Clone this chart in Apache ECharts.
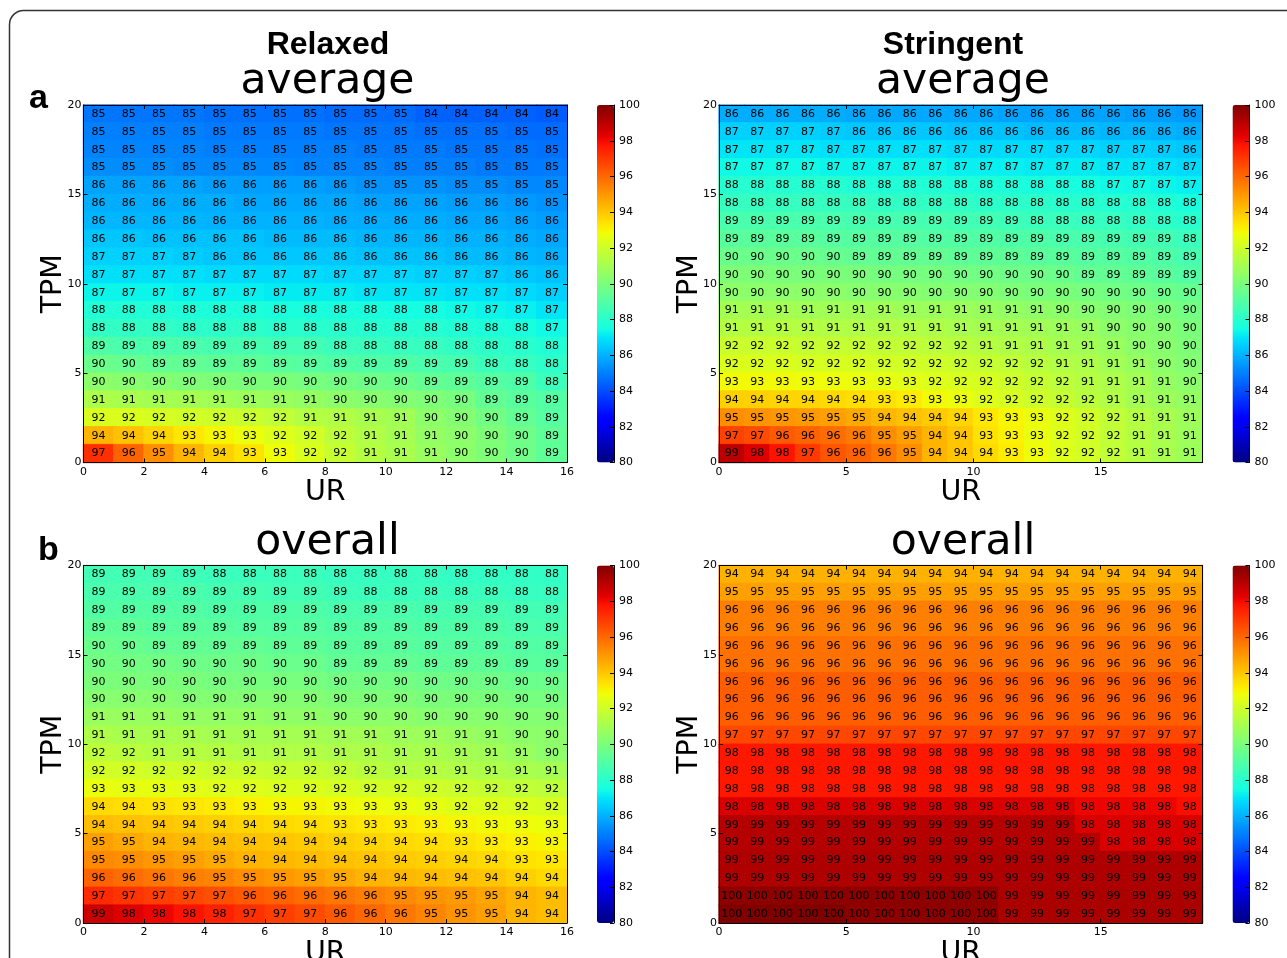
<!DOCTYPE html>
<html><head><meta charset="utf-8">
<style>html,body{margin:0;padding:0;background:#fff;overflow:hidden}#c{width:1287px;height:958px}</style>
<script src="https://cdn.jsdelivr.net/npm/echarts@6/dist/echarts.min.js"></script>
</head><body><div id="c"></div>
<script>
// rows listed from TPM 19 (top) to TPM 0 (bottom); printed numbers read from the cells, tenths
const relaxedAverage = [
[84.8,84.8,84.8,84.8,84.7,84.7,84.7,84.7,84.6,84.6,84.6,84.4,84.4,84.4,84.4,84.3],
[85.0,85.0,85.0,85.0,84.9,84.9,84.9,84.9,84.8,84.8,84.8,84.7,84.7,84.7,84.6,84.6],
[85.1,85.1,85.1,85.1,85.0,85.0,85.0,85.0,85.0,84.9,84.9,84.9,84.8,84.8,84.8,84.7],
[85.3,85.3,85.3,85.2,85.2,85.2,85.2,85.1,85.1,85.1,85.0,85.0,85.0,84.9,84.9,84.9],
[85.7,85.7,85.7,85.7,85.6,85.6,85.6,85.6,85.5,85.4,85.4,85.4,85.3,85.3,85.2,85.2],
[85.9,85.9,85.9,85.9,85.9,85.8,85.8,85.8,85.8,85.7,85.7,85.7,85.6,85.6,85.5,85.4],
[86.1,86.1,86.1,86.1,86.0,86.0,86.0,86.0,85.9,85.9,85.9,85.9,85.8,85.8,85.7,85.6],
[86.4,86.4,86.3,86.3,86.3,86.3,86.2,86.2,86.2,86.1,86.1,86.1,86.0,86.0,85.9,85.8],
[86.6,86.6,86.6,86.5,86.4,86.4,86.4,86.4,86.4,86.3,86.3,86.3,86.2,86.2,86.1,86.0],
[86.9,86.9,86.9,86.9,86.8,86.8,86.8,86.8,86.7,86.7,86.7,86.6,86.6,86.5,86.4,86.3],
[87.3,87.3,87.3,87.2,87.2,87.2,87.1,87.1,87.1,87.0,87.0,87.0,86.9,86.9,86.8,86.6],
[87.8,87.8,87.8,87.7,87.7,87.7,87.6,87.6,87.6,87.6,87.5,87.5,87.4,87.3,87.2,87.0],
[88.2,88.2,88.2,88.1,88.1,88.1,88.0,88.0,88.0,87.9,87.9,87.9,87.8,87.7,87.6,87.4],
[88.9,88.8,88.8,88.8,88.7,88.7,88.6,88.6,88.4,88.4,88.3,88.3,88.2,88.1,88.0,87.8],
[89.6,89.5,89.4,89.4,89.3,89.3,89.2,89.1,89.0,88.9,88.9,88.8,88.7,88.4,88.3,88.1],
[90.4,90.3,90.2,90.1,90.1,90.0,90.0,89.9,89.8,89.7,89.6,89.4,89.3,89.1,88.9,88.4],
[91.2,91.1,91.0,91.0,90.9,90.8,90.7,90.6,90.4,90.3,90.2,90.1,89.9,89.4,89.2,89.0],
[92.3,92.3,92.2,92.1,92.0,91.9,91.7,91.4,91.3,91.1,90.9,90.4,90.2,89.8,89.4,89.1],
[94.4,94.1,93.7,93.3,93.0,92.7,92.4,92.1,91.6,91.3,91.0,90.6,90.4,90.1,89.7,89.3],
[97.2,96.1,95.2,94.4,93.8,93.4,92.8,92.3,91.8,91.4,91.1,90.7,90.4,90.1,89.7,89.3]];
const stringentAverage = [
[85.9,85.9,85.9,85.9,85.9,85.8,85.8,85.8,85.8,85.8,85.8,85.7,85.7,85.7,85.7,85.7,85.6,85.6,85.5],
[86.6,86.6,86.6,86.6,86.5,86.4,86.4,86.4,86.4,86.3,86.3,86.3,86.2,86.2,86.2,86.1,86.1,86.0,85.9],
[87.0,87.0,87.0,87.0,86.9,86.9,86.9,86.9,86.9,86.8,86.8,86.8,86.8,86.7,86.7,86.6,86.6,86.5,86.4],
[87.4,87.4,87.4,87.4,87.3,87.3,87.3,87.3,87.3,87.2,87.2,87.2,87.1,87.1,87.1,87.0,87.0,86.9,86.8],
[87.9,87.9,87.9,87.9,87.9,87.8,87.8,87.8,87.8,87.7,87.7,87.7,87.6,87.6,87.5,87.4,87.4,87.3,87.2],
[88.3,88.3,88.3,88.3,88.3,88.3,88.2,88.2,88.2,88.2,88.1,88.1,88.1,88.0,88.0,87.9,87.9,87.8,87.6],
[88.8,88.8,88.8,88.8,88.8,88.7,88.7,88.7,88.7,88.6,88.6,88.5,88.4,88.4,88.3,88.3,88.2,88.1,88.0],
[89.2,89.2,89.2,89.2,89.1,89.1,89.1,89.1,89.0,89.0,89.0,88.9,88.9,88.8,88.8,88.7,88.6,88.6,88.4],
[89.6,89.6,89.6,89.6,89.5,89.4,89.4,89.4,89.4,89.3,89.3,89.3,89.2,89.2,89.1,89.1,89.0,88.9,88.7],
[90.1,90.1,90.0,90.0,90.0,90.0,89.9,89.9,89.9,89.8,89.8,89.7,89.7,89.6,89.4,89.4,89.3,89.2,89.0],
[90.4,90.4,90.4,90.4,90.4,90.3,90.3,90.3,90.2,90.2,90.2,90.1,90.0,90.0,89.9,89.8,89.7,89.6,89.5],
[91.0,91.0,91.0,90.9,90.9,90.9,90.9,90.8,90.8,90.8,90.7,90.6,90.5,90.4,90.3,90.2,90.1,90.0,89.8],
[91.4,91.4,91.4,91.4,91.3,91.3,91.3,91.3,91.2,91.1,91.0,91.0,90.9,90.8,90.7,90.4,90.3,90.2,90.0],
[91.9,91.9,91.9,91.8,91.8,91.8,91.7,91.7,91.6,91.5,91.4,91.3,91.2,91.0,90.9,90.7,90.4,90.3,90.1],
[92.3,92.3,92.3,92.2,92.2,92.2,92.1,92.1,92.0,91.9,91.8,91.7,91.5,91.3,91.2,90.9,90.7,90.4,90.2],
[92.9,92.9,92.9,92.8,92.8,92.7,92.6,92.5,92.4,92.3,92.2,92.0,91.8,91.6,91.4,91.2,91.0,90.6,90.4],
[93.8,93.8,93.7,93.7,93.6,93.5,93.4,93.2,92.9,92.7,92.4,92.2,92.0,91.8,91.5,91.3,91.0,90.8,90.6],
[95.2,95.1,95.0,94.9,94.8,94.6,94.3,94.1,93.9,93.7,93.3,93.0,92.7,92.4,92.1,91.7,91.4,91.1,90.8],
[96.8,96.6,96.3,96.1,95.9,95.6,95.2,94.8,94.4,94.0,93.4,93.1,92.7,92.4,92.1,91.7,91.4,91.1,90.8],
[99.0,98.4,97.8,97.0,96.4,96.1,95.7,95.2,94.4,94.0,93.6,93.2,92.8,92.4,92.1,91.7,91.4,91.1,90.8]];
const relaxedOverall = [
[88.6,88.6,88.6,88.5,88.4,88.4,88.4,88.4,88.3,88.3,88.3,88.3,88.2,88.2,88.2,88.2],
[88.8,88.8,88.8,88.8,88.7,88.7,88.6,88.6,88.5,88.4,88.4,88.4,88.4,88.4,88.3,88.3],
[89.0,89.0,89.0,89.0,88.9,88.9,88.9,88.9,88.8,88.8,88.8,88.7,88.7,88.7,88.6,88.6],
[89.3,89.3,89.2,89.2,89.2,89.1,89.1,89.1,89.0,89.0,89.0,88.9,88.9,88.9,88.8,88.8],
[89.6,89.5,89.4,89.4,89.4,89.4,89.3,89.3,89.2,89.2,89.2,89.1,89.1,89.1,89.0,89.0],
[89.8,89.8,89.8,89.7,89.7,89.7,89.6,89.6,89.4,89.4,89.4,89.3,89.3,89.3,89.2,89.2],
[90.0,90.0,90.0,90.0,89.9,89.9,89.9,89.9,89.8,89.8,89.8,89.7,89.7,89.7,89.6,89.6],
[90.3,90.3,90.3,90.2,90.2,90.2,90.2,90.2,90.1,90.1,90.1,90.0,90.0,90.0,89.9,89.9],
[90.7,90.7,90.7,90.6,90.6,90.6,90.5,90.5,90.4,90.4,90.4,90.3,90.3,90.3,90.2,90.2],
[91.2,91.1,91.1,91.1,91.0,91.0,91.0,91.0,90.9,90.9,90.8,90.8,90.7,90.6,90.4,90.4],
[91.6,91.5,91.4,91.4,91.4,91.3,91.3,91.3,91.2,91.2,91.1,91.1,91.0,90.9,90.7,90.4],
[92.1,92.1,92.0,92.0,91.9,91.9,91.8,91.8,91.7,91.5,91.4,91.4,91.3,91.2,91.1,91.0],
[92.7,92.6,92.6,92.5,92.4,92.4,92.3,92.3,92.2,92.1,92.1,92.0,91.9,91.8,91.7,91.6],
[93.6,93.5,93.4,93.3,93.2,93.1,93.0,93.0,92.9,92.8,92.7,92.6,92.4,92.4,92.3,92.2],
[94.2,94.1,94.0,93.9,93.8,93.7,93.6,93.5,93.4,93.3,93.2,93.1,93.0,92.9,92.8,92.7],
[94.8,94.6,94.4,94.3,94.2,94.1,94.0,93.9,93.8,93.7,93.6,93.5,93.4,93.2,93.1,93.0],
[95.3,95.2,95.0,94.8,94.6,94.4,94.3,94.2,94.1,94.0,93.9,93.8,93.7,93.6,93.4,93.3],
[96.1,95.9,95.7,95.5,95.4,95.2,95.0,94.8,94.6,94.4,94.3,94.2,94.1,94.0,93.8,93.6],
[97.3,97.1,96.9,96.7,96.5,96.3,96.1,95.9,95.7,95.5,95.3,95.1,94.9,94.7,94.4,94.2],
[98.7,98.4,98.1,97.8,97.5,97.2,96.9,96.6,96.3,96.0,95.7,95.4,95.1,94.8,94.4,94.2]];
const stringentOverall = [
[94.45,94.45,94.45,94.45,94.45,94.45,94.45,94.45,94.45,94.45,94.45,94.45,94.45,94.45,94.45,94.45,94.45,94.45,94.45],
[94.8,94.8,94.8,94.8,94.8,94.8,94.8,94.8,94.8,94.8,94.8,94.8,94.8,94.8,94.8,94.8,94.8,94.8,94.8],
[95.5,95.5,95.5,95.5,95.5,95.5,95.5,95.5,95.5,95.5,95.5,95.5,95.5,95.5,95.5,95.5,95.5,95.5,95.5],
[95.5,95.5,95.5,95.5,95.5,95.5,95.5,95.5,95.5,95.5,95.5,95.5,95.5,95.5,95.5,95.5,95.5,95.5,95.5],
[95.8,95.8,95.8,95.8,95.8,95.8,95.8,95.8,95.8,95.8,95.8,95.8,95.8,95.8,95.8,95.8,95.8,95.8,95.8],
[95.8,95.8,95.8,95.8,95.8,95.8,95.8,95.8,95.8,95.8,95.8,95.8,95.8,95.8,95.8,95.8,95.8,95.8,95.8],
[96.2,96.2,96.2,96.2,96.2,96.2,96.2,96.2,96.2,96.2,96.2,96.2,96.2,96.2,96.2,96.2,96.2,96.2,96.2],
[96.2,96.2,96.2,96.2,96.2,96.2,96.2,96.2,96.2,96.2,96.2,96.2,96.2,96.2,96.2,96.2,96.2,96.2,96.2],
[96.2,96.2,96.2,96.2,96.2,96.2,96.2,96.2,96.2,96.2,96.2,96.2,96.2,96.2,96.2,96.2,96.2,96.2,96.2],
[96.7,96.7,96.7,96.7,96.7,96.7,96.7,96.7,96.7,96.7,96.7,96.7,96.7,96.7,96.7,96.7,96.7,96.7,96.7],
[97.7,97.7,97.7,97.7,97.7,97.7,97.7,97.7,97.7,97.7,97.7,97.7,97.7,97.7,97.7,97.7,97.7,97.7,97.7],
[97.7,97.7,97.7,97.7,97.7,97.7,97.7,97.7,97.7,97.7,97.7,97.7,97.7,97.7,97.7,97.7,97.7,97.7,97.7],
[97.7,97.7,97.7,97.7,97.7,97.7,97.7,97.7,97.7,97.7,97.7,97.7,97.7,97.7,97.7,97.7,97.7,97.7,97.7],
[98.45,98.45,98.45,98.45,98.45,98.45,98.45,98.45,98.45,98.45,98.45,98.45,98.45,98.45,98.1,98.1,98.1,98.1,97.9],
[99.1,99.1,99.1,99.1,99.1,99.1,99.1,99.1,99.1,99.1,99.1,99.1,99.1,99.1,98.45,98.45,98.45,98.45,98.45],
[99.1,99.1,99.1,99.1,99.1,99.1,99.1,99.1,99.1,99.1,99.1,99.1,99.1,99.1,99.1,98.45,98.45,98.45,98.45],
[99.2,99.2,99.2,99.2,99.2,99.2,99.2,99.2,99.2,99.2,99.2,99.2,99.2,99.2,99.2,99.2,99.2,99.2,99.2],
[99.2,99.2,99.2,99.2,99.2,99.2,99.2,99.2,99.2,99.2,99.2,99.2,99.2,99.2,99.2,99.2,99.2,99.2,99.2],
[99.75,99.75,99.75,99.75,99.75,99.75,99.75,99.75,99.75,99.75,99.75,99.25,99.25,99.25,99.25,99.25,99.25,99.25,99.25],
[100,100,100,100,100,99.75,99.75,99.75,99.75,99.75,99.75,99.25,99.25,99.25,99.25,99.25,99.25,99.25,99.25]];

const panelTitles = ['average','average','overall','overall'];
const headings = ['Relaxed','Stringent'];
const panelLetters = ['a','b'];
const xLabel = 'UR', yLabel = 'TPM';
const xTickSteps = [2,5,2,5];
const xMaxes = [16,19,16,19];
const yMax = 20, yTickStep = 5;
const barMin = 80, barMax = 100, barStep = 2;

const matrices = [relaxedAverage, stringentAverage, relaxedOverall, stringentOverall];
const FONT = 'DejaVu Sans', BOLD = 'Liberation Sans';
const boxes = [
  {left:83.5, top:105},{left:719, top:105},
  {left:83.5, top:565.5},{left:719, top:565.5}];
const W = 483.5, H = 357.5;

// matplotlib "jet" colormap
function seg(t, pts){ for(let i=1;i<pts.length;i++){ if(t<=pts[i][0]){const a=pts[i-1],b=pts[i];return a[1]+(b[1]-a[1])*(t-a[0])/(b[0]-a[0]||1);} } return pts[pts.length-1][1]; }
function jetAt(t){
  const r=seg(t,[[0,0],[.35,0],[.66,1],[.89,1],[1,.5]]),
        g=seg(t,[[0,0],[.125,0],[.375,1],[.64,1],[.91,0],[1,0]]),
        b=seg(t,[[0,.5],[.11,1],[.34,1],[.65,0],[1,0]]);
  return `rgb(${Math.round(r*255)},${Math.round(g*255)},${Math.round(b*255)})`;}
const jet=[];
for(let i=0;i<=128;i++) jet.push(jetAt(i/128));

const grid=[],xAxis=[],yAxis=[],series=[],visualMap=[];
const tick={fontFamily:FONT,fontSize:11,color:'#000'};
const line={show:true,onZero:false,lineStyle:{color:'#000',width:1}};
const ticks={show:true,inside:true,length:4,lineStyle:{color:'#000'}};
matrices.forEach((m,p)=>{
  const b=boxes[p], g=grid.length, ny=m.length;
  grid.push({left:b.left,top:b.top,width:W,height:H,containLabel:false,outerBoundsMode:'none'});
  const xi=xAxis.length, yi=yAxis.length;
  xAxis.push({gridIndex:g,type:'category',show:false,data:m[0].map((_,i)=>i)});
  xAxis.push({gridIndex:g,type:'value',position:'bottom',min:0,max:xMaxes[p],interval:xTickSteps[p],z:5,
    splitLine:{show:false},axisLine:line,axisTick:ticks,
    axisLabel:Object.assign({margin:4,hideOverlap:false,showMinLabel:true,showMaxLabel:xMaxes[p]%xTickSteps[p]===0},tick),
    name:xLabel,nameLocation:'middle',nameGap:16,nameTextStyle:{fontFamily:FONT,fontSize:28.5,color:'#000'}});
  xAxis.push({gridIndex:g,type:'value',position:'top',min:0,max:xMaxes[p],interval:xTickSteps[p],z:5,
    splitLine:{show:false},axisLine:line,axisTick:ticks,axisLabel:{show:false}});
  yAxis.push({gridIndex:g,type:'category',show:false,data:m.map((_,i)=>i)});
  yAxis.push({gridIndex:g,type:'value',position:'left',min:0,max:yMax,interval:yTickStep,z:5,
    splitLine:{show:false},axisLine:line,axisTick:ticks,
    axisLabel:Object.assign({margin:2,showMinLabel:true,showMaxLabel:true},tick)});
  yAxis.push({gridIndex:g,type:'value',position:'right',min:0,max:yMax,interval:yTickStep,z:5,
    splitLine:{show:false},axisLine:line,axisTick:ticks,axisLabel:{show:false}});
  // unlabelled axis that only carries the axis name, so the tick labels do not push it outward
  yAxis.push({gridIndex:g,type:'value',position:'left',min:0,max:yMax,interval:yTickStep,z:5,
    splitLine:{show:false},axisLine:{show:false,onZero:false},axisTick:{show:false},axisLabel:{show:false},
    name:yLabel,nameLocation:'middle',nameGap:15,nameRotate:90,nameTextStyle:{fontFamily:FONT,fontSize:28.5,color:'#000'}});
  const data=[];
  m.forEach((row,r)=>row.forEach((v,c)=>data.push({value:[c,ny-1-r,v],
    itemStyle:{borderWidth:0.8,borderColor:jetAt((v-barMin)/(barMax-barMin))}})));
  series.push({type:'heatmap',xAxisIndex:xi,yAxisIndex:yi,data,z:2,silent:true,animation:false,progressive:0,
    label:{show:true,fontFamily:FONT,fontSize:11,color:'#000',formatter:q=>String(Math.round(q.value[2]))},
    emphasis:{disabled:true}});
  visualMap.push({type:'continuous',seriesIndex:p,min:barMin,max:barMax,calculable:false,hoverLink:false,
    left:b.left+W+30,top:b.top,itemWidth:17,itemHeight:H,padding:0,text:null,inRange:{color:jet},realtime:false});
});
// colour-bar frames and tick labels
boxes.forEach(b=>{
  const g=grid.length;
  grid.push({left:b.left+W+30,top:b.top,width:17,height:H,outerBoundsMode:'none'});
  xAxis.push({gridIndex:g,type:'value',show:false,min:0,max:1});
  yAxis.push({gridIndex:g,type:'value',position:'right',min:barMin,max:barMax,interval:barStep,z:6,
    splitLine:{show:false},axisLine:line,axisTick:ticks,
    axisLabel:Object.assign({margin:5,showMinLabel:true,showMaxLabel:true},tick)});
});
const big=(size,weight,family)=>({fontFamily:family,fontSize:size,fontWeight:weight,color:'#000'});
const title=[
  {text:headings[0],left:328,top:29,textAlign:'center',padding:0,textStyle:big(32,'bold',BOLD)},
  {text:headings[1],left:953,top:29,textAlign:'center',padding:0,textStyle:big(32,'bold',BOLD)},
  {text:panelTitles[0],left:327.5,top:60,textAlign:'center',padding:0,textStyle:big(42.5,'normal',FONT)},
  {text:panelTitles[1],left:963,top:60,textAlign:'center',padding:0,textStyle:big(42.5,'normal',FONT)},
  {text:panelTitles[2],left:327.5,top:521,textAlign:'center',padding:0,textStyle:big(42.5,'normal',FONT)},
  {text:panelTitles[3],left:963,top:521,textAlign:'center',padding:0,textStyle:big(42.5,'normal',FONT)},
  {text:panelLetters[0],left:29,top:82,padding:0,textStyle:big(34,'bold',BOLD)},
  {text:panelLetters[1],left:38,top:534,padding:0,textStyle:big(34,'bold',BOLD)}
];
const chart=echarts.init(document.getElementById('c'),null,{renderer:'canvas',width:1287,height:958});
chart.setOption({animation:false,backgroundColor:'#fff',title,grid,xAxis,yAxis,series,visualMap,
  graphic:[{type:'rect',silent:true,z:-1,shape:{x:9.5,y:10.5,width:1400,height:1100,r:14},style:{fill:'none',stroke:'#333',lineWidth:1.5}}]});
</script></body></html>
